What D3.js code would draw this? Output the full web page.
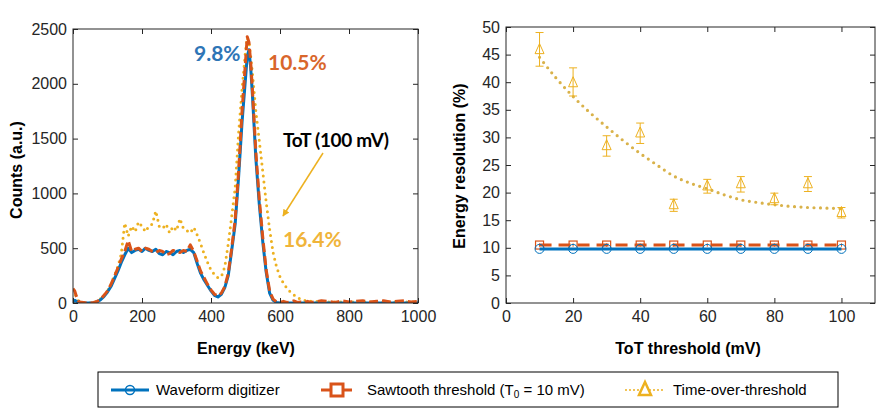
<!DOCTYPE html>
<html><head><meta charset="utf-8">
<script src="https://cdn.jsdelivr.net/npm/d3@7/dist/d3.min.js"></script>
<style>body{margin:0;background:#fff}svg{display:block}</style>
</head><body>
<svg id="c" width="876" height="409"></svg>
<script>
// ---------- Left panel: energy spectra ----------
const energyKeV = [0,5,10,15,20,30,40,50,60,70,80,90,100,110,120,130,140,150,160,170,180,190,200,210,220,230,240,250,260,270,280,290,300,310,320,330,340,350,360,370,380,390,400,410,420,430,440,450,460,470,480,490,500,505,510,515,520,530,540,550,560,570,580,590,600,610,620,630,640,650,660,670,680,690,700,720,740,760,780,800,820,840,860,880,900,920,940,960,980,1000];
const waveformCounts = [10,25,15,8,5,2,0,0,3,10,30,60,100,150,220,290,370,440,500,460,480,490,470,500,480,470,490,450,440,470,460,440,470,480,460,480,490,460,360,270,210,160,110,70,55,80,140,250,480,720,1150,1650,2050,2250,2310,2150,1900,1320,900,560,280,90,25,5,0,0,0,0,0,0,0,0,0,0,0,0,0,0,0,0,0,0,0,0,0,0,0,0,0,0];
const sawtoothCounts = [130,110,60,20,10,5,0,0,5,15,35,70,110,170,240,320,400,470,570,470,490,500,470,500,490,470,460,480,470,440,450,480,470,460,480,470,530,470,380,290,230,170,120,80,65,90,150,270,500,760,1200,1750,2200,2430,2380,2200,1950,1380,950,600,300,110,35,10,5,15,5,10,20,5,10,5,15,5,10,20,15,5,20,10,15,20,10,15,20,10,15,20,10,15];
const totCounts = [120,90,50,20,10,5,0,0,5,15,40,70,110,170,250,330,450,730,610,700,650,740,700,650,700,720,840,700,680,720,640,700,660,770,680,660,640,690,620,540,450,370,300,260,230,240,330,540,790,1050,1550,1950,2300,2420,2380,2250,2100,1750,1480,1200,920,670,460,330,240,180,135,100,75,50,35,25,20,15,15,10,10,10,10,10,10,10,10,10,10,10,10,10,10,10];
const energyTicks = [0,200,400,600,800,1000];
const countTicks = [0,500,1000,1500,2000,2500];

// ---------- Right panel: energy resolution ----------
const thresholds = [10,20,30,40,50,60,70,80,90,100];
const waveformRes = [9.8,9.8,9.8,9.8,9.8,9.8,9.8,9.8,9.8,9.8];
const sawtoothRes = [10.5,10.5,10.5,10.5,10.5,10.5,10.5,10.5,10.5,10.5];
const sawtoothErr = [0.3,0.3,0.3,0.3,0.3,0.3,0.3,0.3,0.3,0.3];
const totRes = [45.9,39.9,28.5,30.8,17.8,21.2,21.6,18.9,21.6,16.4];
const totErrLow = [42.9,37.5,26.6,28.9,16.6,19.9,20.1,17.8,20.2,15.4];
const totErrHigh = [49.0,42.6,30.3,32.6,18.8,22.4,22.9,19.9,22.9,17.3];
const fitThreshold = [10,15,20,25,30,35,40,45,50,55,60,65,70,75,80,85,90,95,100];
const fitRes = [44.5,40.7,37.4,34.5,31.9,29.4,27.1,25.0,23.0,21.7,20.7,19.6,18.7,18.2,17.8,17.5,17.3,17.2,17.1];
const thresholdTicks = [0,20,40,60,80,100];
const resTicks = [0,5,10,15,20,25,30,35,40,45,50];

const BLUE = "#0072BD", ORANGE = "#D95319", GOLD = "#EDB120";
const TICKFONT = "Liberation Sans, Arial, sans-serif";
const svg = d3.select("#c");

const defs = svg.append("defs");
defs.append("marker").attr("id","arr").attr("viewBox","0 0 10 10").attr("refX",9).attr("refY",5)
  .attr("markerWidth",7).attr("markerHeight",7).attr("orient","auto-start-reverse")
  .attr("markerUnits","userSpaceOnUse")
  .append("path").attr("d","M0,0 L10,5 L0,10 z").attr("fill",GOLD);

function frame(g, x, y, xt, yt, showXLabels, xFmt) {
  const [x0,x1] = x.range(), [y0,y1] = y.range();
  const bx = g.append("g").attr("transform",`translate(0,${y0})`)
    .call(d3.axisBottom(x).tickValues(xt).tickSizeInner(-5).tickSizeOuter(0).tickPadding(8).tickFormat(xFmt||d3.format("d")));
  const by = g.append("g").attr("transform",`translate(${x0},0)`)
    .call(d3.axisLeft(y).tickValues(yt).tickSizeInner(-5).tickSizeOuter(0).tickPadding(6).tickFormat(d3.format("d")));
  const bt = g.append("g").attr("transform",`translate(0,${y1})`)
    .call(d3.axisTop(x).tickValues(xt).tickSizeInner(-5).tickSizeOuter(0).tickFormat(""));
  const br = g.append("g").attr("transform",`translate(${x1},0)`)
    .call(d3.axisRight(y).tickValues(yt).tickSizeInner(-5).tickSizeOuter(0).tickFormat(""));
  [bx,by,bt,br].forEach(a=>{
    a.select(".domain").remove();
    a.selectAll("line").attr("stroke","#262626");
    a.selectAll("text").attr("font-family",TICKFONT).attr("font-size",16).attr("fill","#262626");
  });
  g.append("rect").attr("x",x0).attr("y",y1).attr("width",x1-x0).attr("height",y0-y1)
    .attr("fill","none").attr("stroke","#262626").attr("stroke-width",1);
}

// ---------- Left ----------
const xL = d3.scaleLinear().domain([0,1000]).range([73,418]);
const yL = d3.scaleLinear().domain([0,2500]).range([303,29]);
const gL = svg.append("g");
const clipL = defs.append("clipPath").attr("id","clipL").append("rect")
  .attr("x",73).attr("y",29).attr("width",345).attr("height",274);
const lineL = ys => d3.line().x((d,i)=>xL(energyKeV[i])).y((d,i)=>yL(ys[i])).curve(d3.curveLinear)(energyKeV);
const plotL = gL.append("g").attr("clip-path","url(#clipL)");
plotL.append("path").attr("d",lineL(totCounts)).attr("fill","none").attr("stroke",GOLD)
  .attr("stroke-width",3).attr("stroke-dasharray","0,6").attr("stroke-linecap","round");
plotL.append("path").attr("d",lineL(waveformCounts)).attr("fill","none").attr("stroke",BLUE)
  .attr("stroke-width",3).attr("stroke-linejoin","round");
plotL.append("path").attr("d",lineL(sawtoothCounts)).attr("fill","none").attr("stroke",ORANGE)
  .attr("stroke-width",3).attr("stroke-dasharray","9,4").attr("stroke-linejoin","round");
frame(gL, xL, yL, energyTicks, countTicks, true);
gL.append("text").attr("x",246).attr("y",354).attr("text-anchor","middle")
  .attr("font-family",TICKFONT).attr("font-weight","bold").attr("font-size",16).text("Energy (keV)");
gL.append("text").attr("transform","translate(22,170) rotate(-90)").attr("text-anchor","middle")
  .attr("font-family",TICKFONT).attr("font-weight","bold").attr("font-size",16).text("Counts (a.u.)");

const ANN = "Lato, 'Open Sans', sans-serif";
gL.append("text").attr("x",194).attr("y",61).attr("font-family",ANN).attr("font-weight","bold")
  .attr("font-size",21).attr("fill","#2E75B6").text("9.8%");
gL.append("text").attr("x",268).attr("y",70).attr("font-family",ANN).attr("font-weight","bold")
  .attr("font-size",21).attr("fill","#D9662B").text("10.5%");
gL.append("text").attr("x",283).attr("y",147).attr("font-family",ANN).attr("font-weight","bold")
  .attr("font-size",19).attr("fill","#000").attr("letter-spacing","-0.3").text("ToT (100 mV)");
gL.append("text").attr("x",283).attr("y",247).attr("font-family",ANN).attr("font-weight","bold")
  .attr("font-size",21).attr("fill","#F0B43A").text("16.4%");
gL.append("line").attr("x1",323).attr("y1",153).attr("x2",283).attr("y2",216)
  .attr("stroke",GOLD).attr("stroke-width",1.5).attr("marker-end","url(#arr)");

// ---------- Right ----------
const xR = d3.scaleLinear().domain([0,110]).range([506,875]);
const yR = d3.scaleLinear().domain([0,50]).range([303,27]);
const gR = svg.append("g");
// ToT fit (dotted)
gR.append("path").attr("d",d3.line().x((d,i)=>xR(fitThreshold[i])).y((d,i)=>yR(fitRes[i])).curve(d3.curveMonotoneX)(fitThreshold))
  .attr("fill","none").attr("stroke","#D9B24A").attr("stroke-width",3.2).attr("stroke-dasharray","0,6.5").attr("stroke-linecap","round");
// ToT error bars + triangles
thresholds.forEach((t,i)=>{
  const cx = xR(t);
  gR.append("line").attr("x1",cx).attr("x2",cx).attr("y1",yR(totErrLow[i])).attr("y2",yR(totErrHigh[i])).attr("stroke",GOLD).attr("stroke-width",1);
  [totErrLow[i],totErrHigh[i]].forEach(v=>gR.append("line").attr("x1",cx-4).attr("x2",cx+4).attr("y1",yR(v)).attr("y2",yR(v)).attr("stroke",GOLD).attr("stroke-width",1));
  const cy = yR(totRes[i]);
  gR.append("path").attr("d",`M${cx},${cy-6}L${cx+4.5},${cy+4}L${cx-4.5},${cy+4}Z`).attr("fill","none").attr("stroke",GOLD).attr("stroke-width",1);
});
// Sawtooth
gR.append("path").attr("d",d3.line().x((d,i)=>xR(thresholds[i])).y((d,i)=>yR(sawtoothRes[i]))(thresholds))
  .attr("fill","none").attr("stroke",ORANGE).attr("stroke-width",3).attr("stroke-dasharray","12,7");
thresholds.forEach((t,i)=>{
  const cx = xR(t), cy = yR(sawtoothRes[i]);
  gR.append("line").attr("x1",cx).attr("x2",cx).attr("y1",yR(sawtoothRes[i]-sawtoothErr[i])).attr("y2",yR(sawtoothRes[i]+sawtoothErr[i])).attr("stroke",ORANGE).attr("stroke-width",1);
  gR.append("rect").attr("x",cx-4).attr("y",cy-4).attr("width",8).attr("height",8).attr("fill","none").attr("stroke",ORANGE).attr("stroke-width",1.2);
});
// Waveform
gR.append("path").attr("d",d3.line().x((d,i)=>xR(thresholds[i])).y((d,i)=>yR(waveformRes[i]))(thresholds))
  .attr("fill","none").attr("stroke",BLUE).attr("stroke-width",3);
thresholds.forEach((t,i)=>{
  gR.append("circle").attr("cx",xR(t)).attr("cy",yR(waveformRes[i])).attr("r",4.5).attr("fill","none").attr("stroke",BLUE).attr("stroke-width",1);
});
frame(gR, xR, yR, thresholdTicks, resTicks, true);
gR.append("text").attr("x",688).attr("y",354).attr("text-anchor","middle")
  .attr("font-family",TICKFONT).attr("font-weight","bold").attr("font-size",16).text("ToT threshold (mV)");
gR.append("text").attr("transform","translate(465,166) rotate(-90)").attr("text-anchor","middle")
  .attr("font-family",TICKFONT).attr("font-weight","bold").attr("font-size",16).text("Energy resolution (%)");

// ---------- Legend ----------
const lg = svg.append("g");
lg.append("rect").attr("x",98).attr("y",372).attr("width",740).attr("height",35).attr("fill","#fff").attr("stroke","#000").attr("stroke-width",1);
const ly = 390;
// waveform
lg.append("line").attr("x1",111).attr("x2",149).attr("y1",ly).attr("y2",ly).attr("stroke",BLUE).attr("stroke-width",3);
lg.append("circle").attr("cx",130).attr("cy",ly).attr("r",4.5).attr("fill","none").attr("stroke",BLUE).attr("stroke-width",1.5);
lg.append("text").attr("x",156).attr("y",ly+5).attr("font-family",TICKFONT).attr("font-size",15).text("Waveform digitizer");
// sawtooth
lg.append("line").attr("x1",321).attr("x2",352).attr("y1",ly).attr("y2",ly).attr("stroke",ORANGE).attr("stroke-width",3);
lg.append("rect").attr("x",331).attr("y",ly-6).attr("width",12).attr("height",12).attr("fill","#fff").attr("stroke",ORANGE).attr("stroke-width",3);
const st = lg.append("text").attr("x",367).attr("y",ly+5).attr("font-family",TICKFONT).attr("font-size",15);
st.append("tspan").text("Sawtooth threshold (T");
st.append("tspan").attr("font-size",10).attr("dy",3).text("0");
st.append("tspan").attr("dy",-3).text(" = 10 mV)");
// tot
lg.append("line").attr("x1",626).attr("x2",664).attr("y1",ly).attr("y2",ly).attr("stroke",GOLD).attr("stroke-width",2).attr("stroke-dasharray","0,4").attr("stroke-linecap","round");
lg.append("path").attr("d",`M645,${ly-8}L651,${ly+5}L639,${ly+5}Z`).attr("fill","#fff").attr("stroke",GOLD).attr("stroke-width",2.5);
lg.append("text").attr("x",673).attr("y",ly+5).attr("font-family",TICKFONT).attr("font-size",15).text("Time-over-threshold");
</script>
</body></html>
